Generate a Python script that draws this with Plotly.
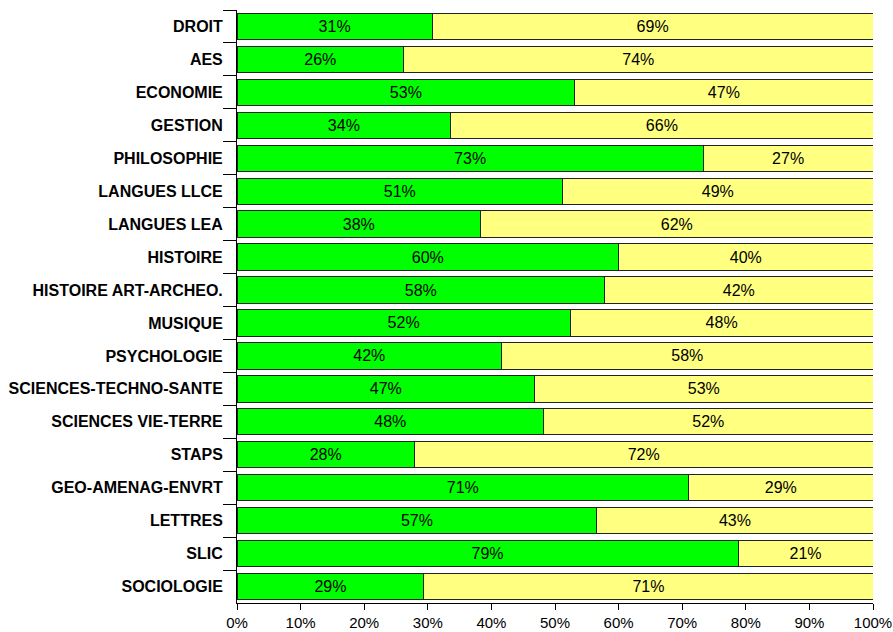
import plotly.graph_objects as go

categories = ["DROIT", "AES", "ECONOMIE", "GESTION", "PHILOSOPHIE", "LANGUES LLCE",
              "LANGUES LEA", "HISTOIRE", "HISTOIRE ART-ARCHEO.", "MUSIQUE", "PSYCHOLOGIE",
              "SCIENCES-TECHNO-SANTE", "SCIENCES VIE-TERRE", "STAPS", "GEO-AMENAG-ENVRT",
              "LETTRES", "SLIC", "SOCIOLOGIE"]
green_values = [30.7, 26.2, 53.1, 33.6, 73.3, 51.2, 38.3, 60.0, 57.8, 52.4, 41.6,
                46.8, 48.2, 27.9, 71.0, 56.6, 78.8, 29.4]
yellow_values = [100 - v for v in green_values]
green_labels = ["31%", "26%", "53%", "34%", "73%", "51%", "38%", "60%", "58%", "52%",
                "42%", "47%", "48%", "28%", "71%", "57%", "79%", "29%"]
yellow_labels = ["69%", "74%", "47%", "66%", "27%", "49%", "62%", "40%", "42%", "48%",
                 "58%", "53%", "52%", "72%", "29%", "43%", "21%", "71%"]
x_ticks = [0, 10, 20, 30, 40, 50, 60, 70, 80, 90, 100]

FONT = "Liberation Sans, Arial, sans-serif"

fig = go.Figure()
fig.add_trace(go.Bar(
    y=categories, x=green_values, orientation="h", width=0.8,
    marker=dict(color="#00FF00", line=dict(color="#222222", width=1)),
    text=green_labels, textposition="inside", insidetextanchor="middle",
    textfont=dict(family=FONT, size=16, color="black"), textangle=0,
    hoverinfo="skip", showlegend=False))
fig.add_trace(go.Bar(
    y=categories, x=yellow_values, orientation="h", width=0.8,
    marker=dict(color="#FFFF80", line=dict(color="#222222", width=1)),
    text=yellow_labels, textposition="inside", insidetextanchor="middle",
    textfont=dict(family=FONT, size=16, color="black"), textangle=0,
    hoverinfo="skip", showlegend=False))

fig.update_layout(
    barmode="stack",
    width=893, height=632,
    margin=dict(l=237, r=20, t=10, b=29, autoexpand=False),
    paper_bgcolor="white", plot_bgcolor="white",
    uniformtext=dict(minsize=16, mode="show"),
    font=dict(family=FONT, size=16, color="black"),
    xaxis=dict(range=[0, 100], tickvals=x_ticks, ticktext=[f"{t}%" for t in x_ticks],
               showgrid=False, zeroline=False, showline=True, linecolor="black", linewidth=1,
               ticks="outside", ticklen=6, tickcolor="black", automargin=False,
               tickfont=dict(family=FONT, size=15, color="black")),
    yaxis=dict(autorange="reversed", showgrid=False, zeroline=False, showline=True,
               linecolor="black", linewidth=1, ticks="outside", ticklen=13, tickcolor="black",
               tickson="boundaries", automargin=False, ticklabelstandoff=10,
               tickfont=dict(family=FONT, size=16, color="black", weight="bold")),
)

fig.write_html("out.html", config={"displayModeBar": False})

with open("out.html", "r", encoding="utf-8") as f:
    html = f.read()
html = html.replace("<head>", "<head><style>html,body{margin:0;padding:0;overflow:hidden;}</style>", 1)
with open("out.html", "w", encoding="utf-8") as f:
    f.write(html)
